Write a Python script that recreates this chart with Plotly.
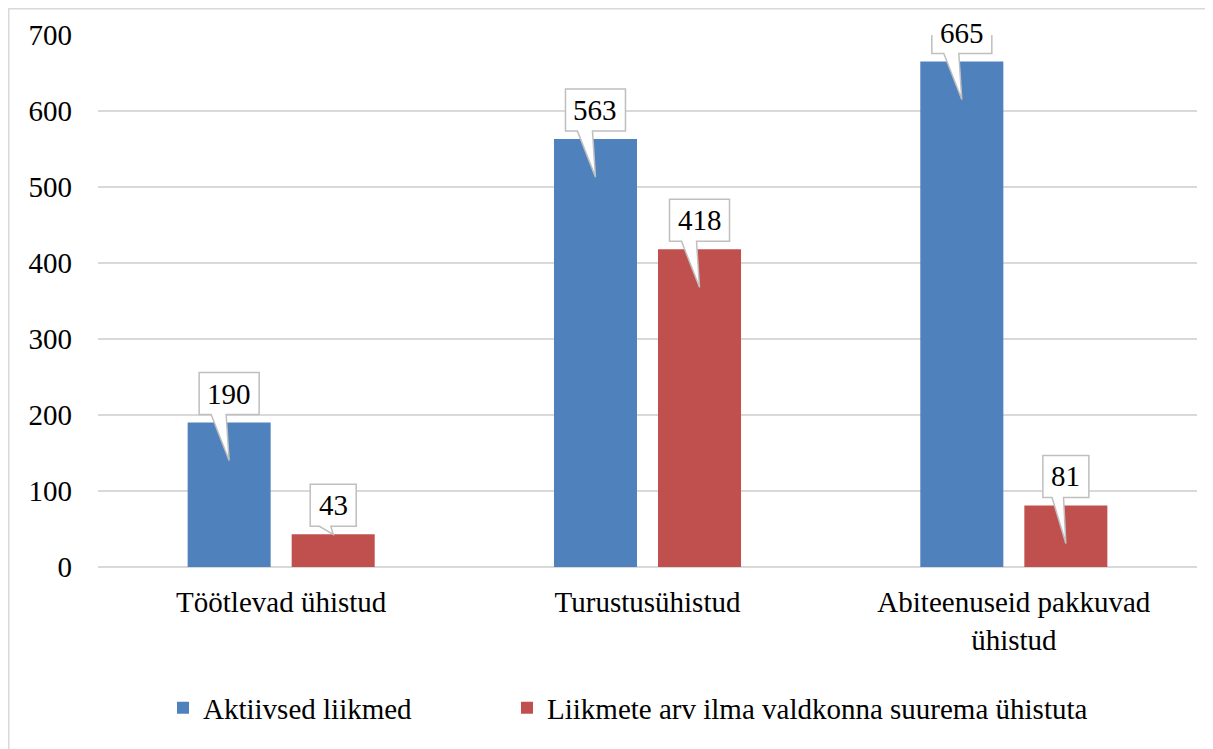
import plotly.graph_objects as go

categories = ["Töötlevad ühistud", "Turustusühistud", "Abiteenuseid pakkuvad<br>ühistud"]
active = [190, 563, 665]
without_big = [43, 418, 81]
series_names = ["Aktiivsed liikmed", "Liikmete arv ilma valdkonna suurema ühistuta"]
y_ticks = [0, 100, 200, 300, 400, 500, 600, 700]

FONT = "Times New Roman"
BLUE = "#4F81BD"
RED = "#C0504D"
GRID = "#D9D9D9"
BARGAP = 0.432
BARGROUPGAP = 0.202

# page body has an 8px margin, so the figure is a bit smaller than the window
W, H = 1205, 741
M = dict(l=90, r=16, t=27, b=182)
plot_w = W - M["l"] - M["r"]
plot_h = H - M["t"] - M["b"]
px_per_unit = plot_h / 700

xs = list(range(len(categories)))
fig = go.Figure()
fig.add_trace(go.Bar(x=xs, y=active, name=series_names[0], marker_color=BLUE,
                     marker_line_width=0, legend="legend"))
fig.add_trace(go.Bar(x=xs, y=without_big, name=series_names[1], marker_color=RED,
                     marker_line_width=0, legend="legend2"))

# callout boxes (speech bubbles) above each bar
slot = (1 - BARGAP) / 2
shapes, annos = [], []
for k, vals in enumerate([active, without_big]):
    off = (k - 0.5) * slot
    for i, v in enumerate(vals):
        bw = 60 if v >= 100 else 46
        bh = 42
        bottom = 8
        bar_px = v * px_per_unit
        tip = -38 if bar_px > 45 else 0
        p1, p2 = -0.3 * bw, -0.05 * bw
        path = (f"M{-bw/2},{bottom} L{p1},{bottom} L0,{tip} L{p2},{bottom} "
                f"L{bw/2},{bottom} L{bw/2},{bottom+bh} L{-bw/2},{bottom+bh} Z")
        shapes.append(dict(type="path", xref="x", yref="y", xsizemode="pixel", ysizemode="pixel",
                           xanchor=i + off, yanchor=v, path=path, fillcolor="white",
                           line=dict(color="#BFBFBF", width=1.5), layer="above"))
        annos.append(dict(x=i + off, y=v, xref="x", yref="y", text=str(v), showarrow=False,
                          yshift=bottom + bh / 2, font=dict(family=FONT, size=29)))

# outer chart border (only top/left visible in the crop)
shapes.append(dict(type="rect", xref="paper", yref="paper",
                   x0=(0.5 - M["l"]) / plot_w, x1=1.2,
                   y0=-0.6, y1=1 + (M["t"] - 0.5) / plot_h,
                   line=dict(color=GRID, width=2), layer="below"))

leg_font = dict(family=FONT, size=29)
leg_y = -(700 - (M["t"] + plot_h)) / plot_h

fig.update_layout(
    width=W, height=H, margin=M,
    paper_bgcolor="white", plot_bgcolor="white",
    barmode="group", bargap=BARGAP, bargroupgap=BARGROUPGAP,
    font=dict(family=FONT, size=29, color="black"),
    shapes=shapes, annotations=annos,
    showlegend=True,
    legend=dict(orientation="h", x=(155 - M["l"]) / plot_w, xanchor="left", y=leg_y,
                yanchor="middle", font=leg_font, bgcolor="rgba(0,0,0,0)"),
    legend2=dict(orientation="h", x=(499 - M["l"]) / plot_w, xanchor="left", y=leg_y,
                 yanchor="middle", font=leg_font, bgcolor="rgba(0,0,0,0)"),
    xaxis=dict(tickvals=xs, ticktext=categories, range=[-0.5, 2.5], showgrid=False,
               showline=False, zeroline=False, ticks="", ticklabelstandoff=15),
    yaxis=dict(range=[0, 700], tickvals=y_ticks, showgrid=True, gridcolor=GRID, gridwidth=1.5,
               zeroline=True, zerolinecolor=GRID, zerolinewidth=1.5, showline=False,
               ticks="", ticklabelstandoff=25),
)

fig.write_html("out.html")
